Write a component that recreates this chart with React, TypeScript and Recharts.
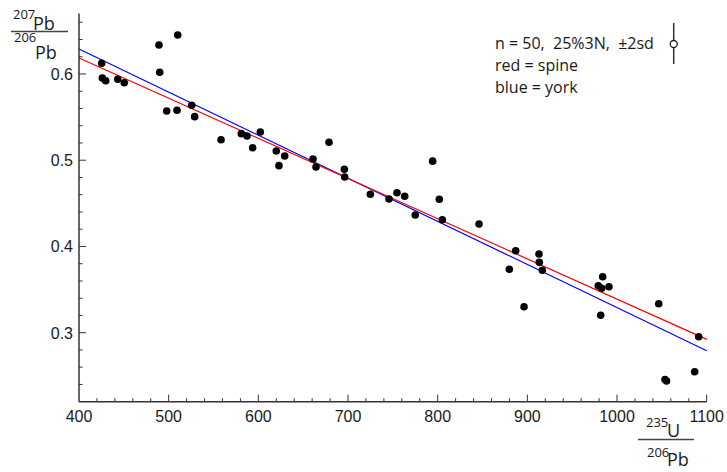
import React from 'react';
import { ComposedChart, Scatter, XAxis, YAxis, ReferenceLine, Customized } from 'recharts';

// 235U/206Pb values
const ratioU = [
  425.3, 426.0, 429.8, 443.2, 450.5, 489.2, 490.0, 510.1, 497.8, 509.3,
  525.7, 529.0, 558.4, 581.0, 587.4, 602.2, 593.7, 620.0, 629.4, 623.0,
  661.0, 664.3, 678.8, 695.9, 696.3, 724.9, 745.7, 754.6, 763.2, 775.0,
  794.4, 801.8, 805.2, 846.1, 887.0, 879.9, 913.0, 913.3, 916.7, 896.3,
  984.0, 979.1, 982.9, 991.0, 981.8, 1046.5, 1091.1, 1053.5, 1055.2, 1086.6,
];
// 207Pb/206Pb values
const ratioPb = [
  0.6124, 0.5954, 0.5922, 0.5939, 0.5899, 0.6336, 0.602, 0.6452, 0.5571, 0.5579,
  0.5637, 0.5505, 0.5238, 0.5308, 0.5281, 0.5327, 0.5145, 0.5107, 0.5049, 0.4937,
  0.5014, 0.4921, 0.5208, 0.4895, 0.4806, 0.4605, 0.455, 0.4623, 0.4582, 0.4365,
  0.4989, 0.4547, 0.431, 0.426, 0.3951, 0.3735, 0.3913, 0.3816, 0.3724, 0.3301,
  0.3649, 0.3545, 0.3515, 0.3533, 0.3202, 0.3336, 0.2953, 0.2457, 0.244, 0.2548,
];

const spineX = [400, 1100];
const spineY = [0.6186, 0.2923];
const yorkX = [400, 1100];
const yorkY = [0.629, 0.2791];

const xTicks = [
  400, 420, 440, 460, 480, 500, 520, 540, 560, 580, 600, 620, 640, 660, 680, 700,
  720, 740, 760, 780, 800, 820, 840, 860, 880, 900, 920, 940, 960, 980, 1000,
  1020, 1040, 1060, 1080, 1100,
];
const yTicks = [
  0.24, 0.26, 0.28, 0.3, 0.32, 0.34, 0.36, 0.38, 0.4, 0.42, 0.44, 0.46, 0.48,
  0.5, 0.52, 0.54, 0.56, 0.58, 0.6, 0.62, 0.64, 0.66,
];

const legendLines = ['n = 50,  25%3N,  \u00b12sd', 'red = spine', 'blue = york'];

const points = ratioU.map((x, i) => ({ x, y: ratioPb[i] }));

const AXIS = '#333';
const TXT = '#1a1a1a';
const tickFont = 'Liberation Sans, Arial, sans-serif';
const labelFont = 'Open Sans, Noto Sans, sans-serif';

const XTick = (props: any) => {
  const { x, y, payload } = props;
  const v = payload.value;
  const major = Math.abs(v % 100) < 1e-6;
  return (
    <g>
      {v !== 400 && (
        <line x1={x} x2={x} y1={y} y2={y - (major ? 7 : 3.5)} stroke={AXIS} strokeWidth={1} />
      )}
      {major && (
        <text x={x} y={y + 20.5} textAnchor="middle" fontSize={16} fontFamily={tickFont} fill={TXT}>
          {v}
        </text>
      )}
    </g>
  );
};

const YTick = (props: any) => {
  const { x, y, payload } = props;
  const v = payload.value;
  const major = Math.abs(v * 10 - Math.round(v * 10)) < 1e-6;
  return (
    <g>
      <line x1={x} x2={x + (major ? 7 : 3.5)} y1={y} y2={y} stroke={AXIS} strokeWidth={1} />
      {major && (
        <text x={x - 6} y={y + 5.8} textAnchor="end" fontSize={16} fontFamily={tickFont} fill={TXT}>
          {v.toFixed(1)}
        </text>
      )}
    </g>
  );
};

const Dot = (props: any) => {
  const { cx, cy } = props;
  return <circle cx={cx} cy={cy} r={3.8} fill="#000" />;
};

const Overlay = () => (
  <g fontFamily={labelFont} fill={TXT}>
    {/* y-axis label */}
    <text x={13} y={19} fontSize={13}>207</text>
    <text x={33} y={30} fontSize={18}>Pb</text>
    <line x1={11} x2={68} y1={31.5} y2={31.5} stroke="#444" strokeWidth={1.5} />
    <text x={14} y={41.5} fontSize={13}>206</text>
    <text x={35} y={59} fontSize={18}>Pb</text>
    {/* x-axis label */}
    <text x={646} y={426.5} fontSize={13}>235</text>
    <text x={667} y={437} fontSize={18}>U</text>
    <line x1={638} x2={694} y1={439.5} y2={439.5} stroke="#444" strokeWidth={1.5} />
    <text x={647} y={456.5} fontSize={13}>206</text>
    <text x={667} y={466} fontSize={18}>Pb</text>
    {/* legend text */}
    {legendLines.map((t, i) => (
      <text key={i} x={495} y={48.7 + i * 22} fontSize={16} style={{ whiteSpace: 'pre' }}>
        {t}
      </text>
    ))}
    {/* error bar symbol */}
    <line x1={673.7} x2={673.7} y1={23} y2={64} stroke="#333" strokeWidth={1.5} />
    <circle cx={673.7} cy={44} r={3.5} fill="#fff" stroke="#222" strokeWidth={1.3} />
  </g>
);

export default function App() {
  return (
    <div style={{ position: 'absolute', left: 0, top: 0, background: '#fff' }}>
      <ComposedChart
        width={727}
        height={472}
        margin={{ top: 13.6, right: 20.3, left: 0, bottom: 0 }}
      >
        <XAxis
          type="number"
          dataKey="x"
          domain={[400, 1100]}
          allowDataOverflow
          ticks={xTicks}
          interval={0}
          tickSize={0}
          tickMargin={0}
          height={70.3}
          axisLine={{ stroke: AXIS, strokeWidth: 1.5 }}
          tickLine={false}
          tick={<XTick />}
        />
        <YAxis
          type="number"
          dataKey="y"
          domain={[0.22, 0.67]}
          allowDataOverflow
          ticks={yTicks}
          interval={0}
          tickSize={0}
          tickMargin={0}
          width={79}
          axisLine={{ stroke: AXIS, strokeWidth: 1.5 }}
          tickLine={false}
          tick={<YTick />}
        />
        <ReferenceLine
          segment={[
            { x: yorkX[0], y: yorkY[0] },
            { x: yorkX[1], y: yorkY[1] },
          ]}
          stroke="#0000ff"
          strokeWidth={1.2}
        />
        <ReferenceLine
          segment={[
            { x: spineX[0], y: spineY[0] },
            { x: spineX[1], y: spineY[1] },
          ]}
          stroke="#ff0000"
          strokeWidth={1.2}
        />
        <Scatter data={points} dataKey="y" shape={<Dot />} isAnimationActive={false} />
        <Customized component={Overlay} />
      </ComposedChart>
    </div>
  );
}
